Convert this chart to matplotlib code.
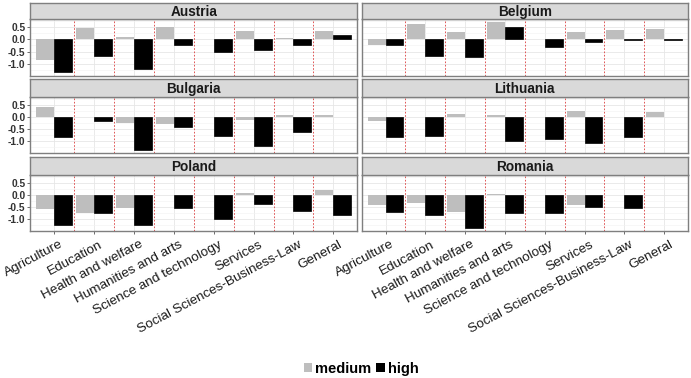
import numpy as np
import matplotlib
matplotlib.use("Agg")
import matplotlib.pyplot as plt
import matplotlib.transforms as mtransforms
from matplotlib.patches import Patch

plt.rcParams['font.family'] = ['Liberation Sans', 'DejaVu Sans']

categories = ["Agriculture", "Education", "Health and welfare", "Humanities and arts",
              "Science and technology", "Services", "Social Sciences-Business-Law", "General"]
countries = ["Austria", "Belgium", "Bulgaria", "Lithuania", "Poland", "Romania"]

austria_medium = [-0.83, 0.46, 0.08, 0.51, 0.0, 0.33, 0.04, 0.33]
austria_high = [-1.33, -0.68, -1.19, -0.22, -0.51, -0.42, -0.22, 0.18]
belgium_medium = [-0.25, 0.64, 0.28, 0.71, 0.0, 0.28, 0.36, 0.44]
belgium_high = [-0.25, -0.69, -0.72, 0.49, -0.33, -0.10, -0.03, -0.01]
bulgaria_medium = [0.38, 0.0, -0.27, -0.32, 0.0, -0.15, 0.08, 0.05]
bulgaria_high = [-0.86, -0.16, -1.39, -0.43, -0.80, -1.22, -0.64, 0.0]
lithuania_medium = [-0.18, 0.0, 0.09, 0.05, 0.0, 0.22, 0.0, 0.19]
lithuania_high = [-0.84, -0.82, 0.0, -1.00, -0.93, -1.08, -0.85, 0.0]
poland_medium = [-0.61, -0.75, -0.56, -0.01, 0.0, 0.07, -0.01, 0.18]
poland_high = [-1.26, -0.75, -1.26, -0.54, -1.03, -0.38, -0.69, -0.83]
romania_medium = [-0.43, -0.36, -0.72, 0.04, 0.0, -0.42, -0.03, -0.01]
romania_high = [-0.71, -0.83, -1.39, -0.76, -0.76, -0.50, -0.56, 0.0]

medium = {"Austria": austria_medium, "Belgium": belgium_medium, "Bulgaria": bulgaria_medium,
          "Lithuania": lithuania_medium, "Poland": poland_medium, "Romania": romania_medium}
high = {"Austria": austria_high, "Belgium": belgium_high, "Bulgaria": bulgaria_high,
        "Lithuania": lithuania_high, "Poland": poland_high, "Romania": romania_high}

W, H = 691, 378
fig = plt.figure(figsize=(W / 100, H / 100), dpi=100)

cols = [(30.3, 357.3), (361.7, 688.0)]
panel_rows = [(19.3, 76.0), (97.0, 152.7), (175.0, 230.7)]
strip_rows = [(2.7, 19.3), (79.3, 97.0), (157.3, 175.0)]

def rect(x0, x1, y0, y1):
    return [x0 / W, 1 - y1 / H, (x1 - x0) / W, (y1 - y0) / H]

x = np.arange(len(categories))
edge = "#7F7F7F"
shift = mtransforms.ScaledTranslation(5 / 100, -1.5 / 100, fig.dpi_scale_trans)

for i, country in enumerate(countries):
    r, c = divmod(i, 2)
    x0, x1 = cols[c]
    ax = fig.add_axes(rect(x0, x1, *panel_rows[r]))
    ax.set_xlim(-0.6, len(categories) - 0.4)
    ax.set_ylim(-1.495, 0.815)
    ax.set_yticks([-1.0, -0.5, 0.0, 0.5])
    ax.set_yticks([-1.25, -0.75, -0.25, 0.25, 0.75], minor=True)
    ax.set_xticks(x)
    ax.grid(which="major", color="#E6E6E6", lw=0.6)
    ax.grid(which="minor", axis="y", color="#F2F2F2", lw=0.4)
    ax.set_axisbelow(True)

    m = np.array(medium[country])
    h = np.array(high[country])
    ax.bar(x[m != 0] - 0.225, m[m != 0], width=0.45, color="#BEBEBE", lw=0)
    ax.bar(x[h != 0] + 0.225, h[h != 0], width=0.45, color="black",
           edgecolor="black", lw=0.5)

    for b in np.arange(0.5, len(categories) - 1, 1.0):
        ax.axvline(b, color="#DA3C3C", lw=0.6, dashes=(2, 2))

    for s in ax.spines.values():
        s.set_color(edge)
        s.set_linewidth(1.0)
    ax.tick_params(which="both", color="#555555", length=2.5, width=0.6)
    ax.tick_params(which="minor", length=0)

    if c == 0:
        ax.set_yticklabels(["-1.0", "-0.5", "0.0", "0.5"], fontsize=7.4,
                           fontweight="bold", color="#333333")
        ax.tick_params(axis="y", pad=1)
    else:
        ax.tick_params(axis="y", labelleft=False, length=0)

    if r == 2:
        ax.set_xticklabels(categories, fontsize=9.7, rotation=28, ha="right",
                           va="top", rotation_mode="anchor", color="#1A1A1A")
        ax.tick_params(axis="x", pad=2)
        for lab in ax.get_xticklabels():
            lab.set_transform(lab.get_transform() + shift)
    else:
        ax.tick_params(axis="x", labelbottom=False, length=0)

    sax = fig.add_axes(rect(x0, x1, *strip_rows[r]))
    sax.set_facecolor("#D9D9D9")
    sax.set_xticks([])
    sax.set_yticks([])
    for s in sax.spines.values():
        s.set_color(edge)
        s.set_linewidth(1.0)
    sax.text(0.5, 0.45, country, transform=sax.transAxes, ha="center", va="center",
             fontsize=9.8, fontweight="bold", color="#1A1A1A")

handles = [Patch(facecolor="#BEBEBE", edgecolor="none"),
           Patch(facecolor="black", edgecolor="none")]
fig.legend(handles, ["medium", "high"], loc="center",
           bbox_to_anchor=(361 / W, 1 - 369 / H), ncol=2, frameon=False,
           handlelength=0.6, handleheight=0.6, handletextpad=0.2, columnspacing=0.3,
           prop={"size": 10.5, "weight": "bold"})

fig.savefig("out.png", dpi=100)
